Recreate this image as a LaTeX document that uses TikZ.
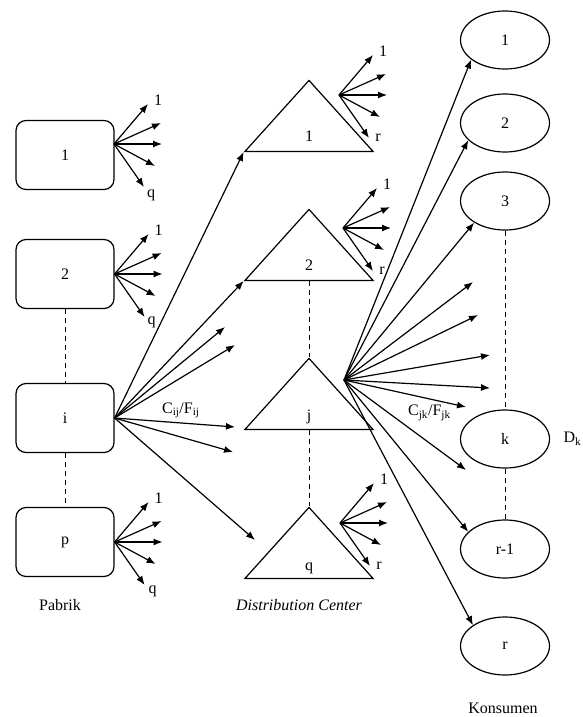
\documentclass[tikz,border=0pt]{standalone}
\usepackage{fontspec}
\setmainfont{Liberation Serif}
\usetikzlibrary{arrows.meta}
\usetikzlibrary{shapes.geometric}

\begin{document}
\begin{tikzpicture}[x=1pt,y=-1pt,font=\fontsize{16}{19}\selectfont]
  \tikzset{pabrik/.style = {shape=rectangle,draw,rounded corners=10pt,minimum width=98pt,minimum height=69pt,line width=1.2pt}}
  \tikzset{dc/.style = {isosceles triangle,isosceles triangle stretches,shape border rotate=90,draw,minimum width=128pt,minimum height=71pt,inner sep=0pt,line width=1.2pt}}
  \tikzset{kons/.style = {shape=ellipse,draw,minimum width=89pt,minimum height=58pt,line width=1.2pt}}
  \tikzset{edge/.style = {-{Latex[length=9pt,width=7pt]},line width=1.2pt}}
  \tikzset{dots/.style = {dash pattern=on 5pt off 4pt,line width=1pt}}

  \useasboundingbox (0,0) rectangle (583,717);

	\node[pabrik] (b1) at (65,155) {1};
	\node[pabrik] (b2) at (65,274) {2};
	\node[pabrik] (bi) at (65,418) {i};
	\node[pabrik] (bp) at (65,542) {p};

	\node[dc,anchor=lower side] (t1) at (309,152) {};
	\node[dc,anchor=lower side] (t2) at (309,281) {};
	\node[dc,anchor=lower side] (tj) at (309,430) {};
	\node[dc,anchor=lower side] (tq) at (309,579) {};
	\node[anchor=base] (t1n) at ([yshift=11pt]t1.lower side) {1};
	\node[anchor=base] (t2n) at ([yshift=11pt]t2.lower side) {2};
	\node[anchor=base] (tjn) at ([yshift=10pt]tj.lower side) {j};
	\node[anchor=base] (tqn) at ([yshift=9pt]tq.lower side) {q};

	\node[kons] (e1) at (505,40) {1};
	\node[kons] (e2) at (505,123) {2};
	\node[kons] (e3) at (505,201) {3};
	\node[kons] (ek) at (505,439) {k};
	\node[kons] (er1) at (505,549) {r-1};
	\node[kons] (er) at (505,646) {r};

	\draw[dots] (b2) -- (bi);
	\draw[dots] (bi) -- (bp);
	\draw[dots] (t2.lower side) -- (tj.apex);
	\draw[dots] (tj.lower side) -- (tq.apex);
	\draw[dots] (e3) -- (ek);
	\draw[dots] (ek) -- (er1);

	% kipas panah kecil
	\coordinate (f1) at (114,144);
	\coordinate (f2) at (b2.east);
	\coordinate (fp) at (bp.east);
	\coordinate (g1) at (339,95);
	\coordinate (g2) at (343,228);
	\coordinate (gq) at (340,523);
	\foreach \o/\last/\lx/\ly in {f1/q/7/-8,f2/q/7/-5,fp/q/8/-6,g1/r/9/0,g2/r/9/0,gq/r/9/0} {
	  \foreach \dx/\dy [count=\n] in {34/-40,47/-21,48/0,41/22,30/43}
	    \draw[edge] (\o) -- ++(\dx,\dy) coordinate (\o-\n);
	  \node (\o-a) at ([xshift=10pt,yshift=4pt]\o-1) {1};
	  \node (\o-b) at ([xshift=\lx pt,yshift=\ly pt]\o-5) {\last};
	}

	% pabrik i ke distribution center
	\path (225,327) coordinate (i3) (235,345) coordinate (i4)
	      (235,427) coordinate (i5) (233,452) coordinate (i6) (255,540) coordinate (i7);
	\foreach \to in {t1.left corner,t2.left corner,i3,i4,i6,i7}
	  \draw[edge] (bi.east) -- (\to);
	\draw[edge] (bi.east) -- node[pos=0.55,above=1pt] {C\textsubscript{ij}/F\textsubscript{ij}} (i5);

	% distribution center j ke konsumen
	\coordinate (jo) at (344,380);
	\path (473,282) coordinate (k4) (478,315) coordinate (k5) (490,355) coordinate (k6)
	      (490,388) coordinate (k7) (466,407) coordinate (k8) (466,470) coordinate (k9);
	\foreach \to in {e1.210,e2.205,e3.215,k4,k5,k6,k7,k9,er1.155,er.147}
	  \draw[edge] (jo) -- (\to);
	\draw[edge] (jo) -- node[pos=0.7,below=2pt] {C\textsubscript{jk}/F\textsubscript{jk}} (k8);
	\node[right=10pt] (dk) at (ek.east) {D\textsubscript{k}};

	\node (pab) at (60,605) {Pabrik};
	\node (dcc) at (299,605) {\textit{Distribution Center}};
	\node (kon) at (503,708) {Konsumen};
\end{tikzpicture}
\end{document}
